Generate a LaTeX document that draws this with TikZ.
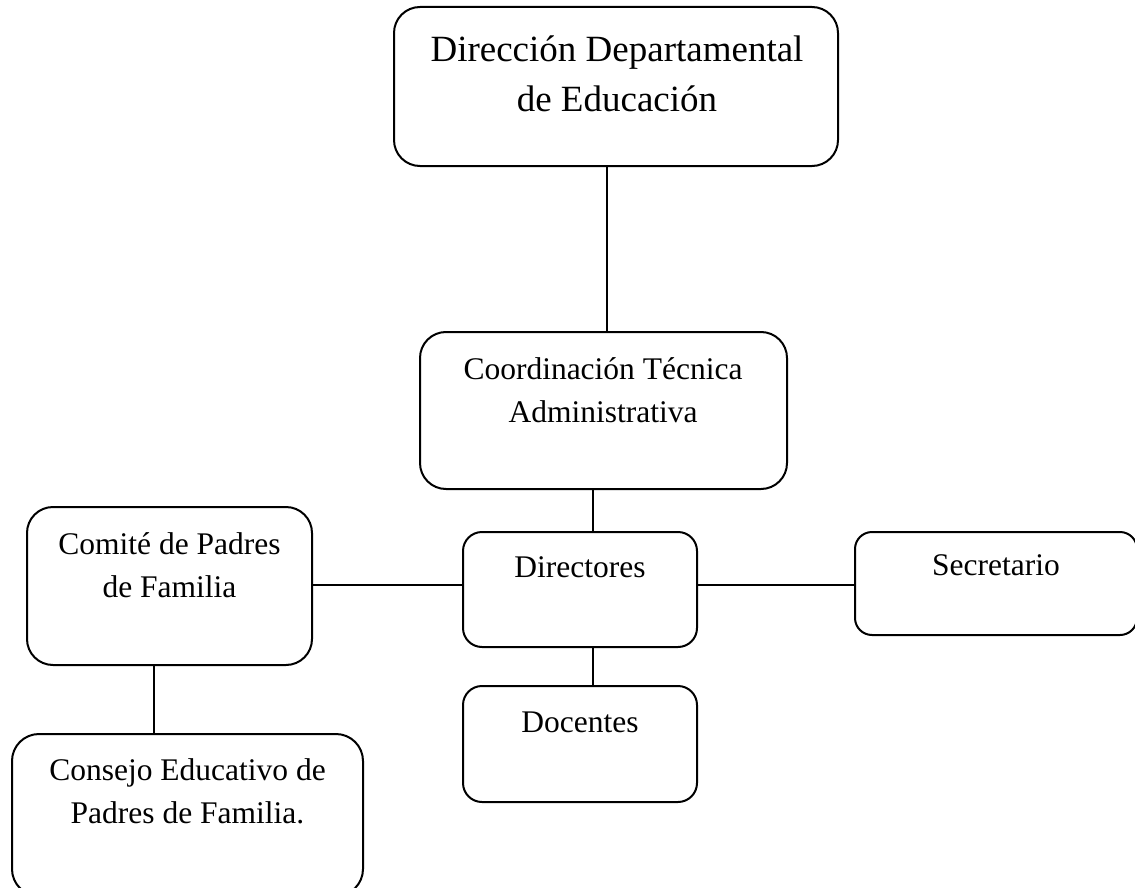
\documentclass[tikz,border=0pt]{standalone}
\usepackage{fontspec}
\setmainfont{Liberation Serif}
\tikzset{
  orgbox/.style={draw, line width=2pt, inner sep=0pt, rounded corners=#1},
  lbl/.style={inner sep=0pt, align=center, anchor=base, font=\fontsize{31.5}{43}\selectfont},
  biglbl/.style={lbl, font=\fontsize{37}{50}\selectfont},
  conn/.style={line width=2pt},
}
\begin{document}
\begin{tikzpicture}[x=1pt,y=-1pt]
\useasboundingbox (0,0) rectangle (1135,888);
\clip (0,0) rectangle (1135,888);
% boxes
\node[orgbox=26pt, minimum width=444pt, minimum height=159pt] (dde) at (616,86.5) {};
\node[orgbox=26pt, minimum width=367pt, minimum height=157pt] (ctat) at (603.5,410.5) {};
\node[orgbox=19pt, minimum width=234pt, minimum height=115pt] (dir) at (580,589.5) {};
\node[orgbox=19pt, minimum width=234pt, minimum height=116pt] (doc) at (580,744) {};
\node[orgbox=26pt, minimum width=285pt, minimum height=158pt] (cpf) at (169.5,586) {};
\node[orgbox=17pt, minimum width=282pt, minimum height=103pt] (sec) at (996,583.5) {};
\node[orgbox=27pt, minimum width=351pt, minimum height=162pt] (cepf) at (187.5,815) {};
% texts (base anchor = baseline of the last line)
\node[biglbl] (tdde) at (617,112) {Dirección Departamental\\de Educación};
\node[lbl] (tctat) at (603,422) {Coordinación Técnica\\Administrativa};
\node[lbl] (tdir) at (580,577) {Directores};
\node[lbl] (tdoc) at (580,732) {Docentes};
\node[lbl] (tcpf) at (169.5,597) {Comité de Padres\\de Familia};
\node[lbl] (tsec) at (996,575) {Secretario};
\node[lbl] (tcepf) at (187.5,823) {Consejo Educativo de\\Padres de Familia.};
% connectors
\coordinate (x1) at (607,0);
\coordinate (x2) at (593,0);
\coordinate (x3) at (154,0);
\coordinate (y1) at (0,585);
\draw[conn] (dde.south -| x1) -- (ctat.north -| x1);
\draw[conn] (ctat.south -| x2) -- (dir.north -| x2);
\draw[conn] (dir.south -| x2) -- (doc.north -| x2);
\draw[conn] (dir.west |- y1) -- (cpf.east |- y1);
\draw[conn] (dir.east |- y1) -- (sec.west |- y1);
\draw[conn] (cpf.south -| x3) -- (cepf.north -| x3);
\end{tikzpicture}
\end{document}
